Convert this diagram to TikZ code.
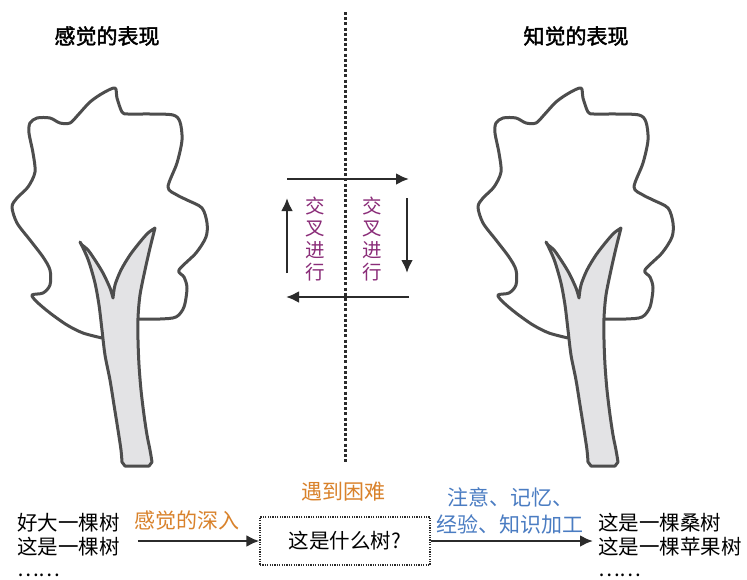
\documentclass[tikz,border=0pt]{standalone}
\usepackage{fontspec}
\setmainfont[AutoFakeBold=2]{Noto Sans CJK SC}
\usetikzlibrary{arrows.meta}
\tikzset{>={Latex[length=13pt,width=12pt]}}
\definecolor{inkgray}{HTML}{4D4D4D}
\definecolor{barkgray}{HTML}{E3E3E5}
\definecolor{arrowdark}{HTML}{2B2B2B}
\definecolor{warmorange}{HTML}{D9822B}
\definecolor{calmblue}{HTML}{4A7CC2}
\definecolor{vinepurple}{HTML}{8A2C78}

% hand drawn tree: crown outline first, trunk filled on top
\tikzset{sketchtree/.pic={
  \draw[inkgray,line width=3pt,line join=round,line cap=round]
    plot[smooth,tension=0.5] coordinates {
      (102,338) (83,333) (67,325) (50,313) (37,302) (32,295) (43,293) (50,285)
      (50,270) (43,257) (30,240) (17,223) (12,207) (17,198) (28,187) (35,172)
      (33,153) (29,133) (30,123) (37,118) (50,118) (60,123) (70,123) (78,115)
      (90,102) (103,93) (115,88) (117,98) (122,112) (128,114) (150,114)
      (173,115) (180,122) (182,140) (177,163) (168,187) (177,195) (187,200)
      (202,208) (207,223) (206,237) (196,253) (179,270) (184,277) (187,288)
      (184,307) (176,317) (160,319) (139,319)};
  \filldraw[fill=barkgray,draw=inkgray,line width=3pt,line join=round]
    plot[smooth,tension=0.5] coordinates {
      (80,242) (84,250) (89,262) (95,283) (99,305) (102,330) (105,355)
      (110,380) (114,405) (118,430) (121,450) (122,462)}
    -- (125,466) -- (149,466) --
    plot[smooth,tension=0.5] coordinates {
      (152,462) (150,450) (147,435) (144,415) (141,390) (139,365) (138,340)
      (138,318) (140,295) (145,270) (150,248) (154,232) (155,228)}
    --
    plot[smooth,tension=0.5] coordinates {
      (155,228) (148,233) (140,242) (130,255) (121,270) (115,285) (113,298)}
    --
    plot[smooth,tension=0.5] coordinates {
      (113,298) (110,288) (103,273) (95,260) (88,250) (82,245)}
    -- cycle;
}}

\begin{document}
\begin{tikzpicture}[x=1pt,y=-1pt]
\tikzstyle{hdr} = [font=\fontsize{21}{24}\selectfont\bfseries,inner sep=0pt]
\tikzstyle{said} = [font=\fontsize{20.5}{24}\selectfont,inner sep=0pt,align=left]
\tikzstyle{more} = [font=\fontsize{20.5}{24}\selectfont,inner sep=0pt,anchor=base west]
\tikzstyle{step note} = [font=\fontsize{21}{27}\selectfont,inner sep=0pt,align=center]
\tikzstyle{cross} = [font=\fontsize{19.5}{22}\selectfont,inner sep=0pt,align=center,text=vinepurple]
\tikzstyle{arr} = [->,draw=arrowdark,line width=2.6pt]
\tikzstyle{query box} = [font=\fontsize{20.5}{24}\selectfont,draw=arrowdark,line width=1.2pt,dash pattern=on 1.2pt off 1.2pt,minimum width=170pt,minimum height=48pt,inner sep=0pt]
\useasboundingbox (0,0) rectangle (747,579);
\fill[white] (0,0) rectangle (747,579);

\pic at (0,0) {sketchtree};
\pic at (466,0) {sketchtree};

\node[hdr] (sense) at (107,36) {感觉的表现};
\node[hdr] (percept) at (576,36) {知觉的表现};

\coordinate (divtop) at (345,12);
\coordinate (divbot) at (345,462);
\draw[arrowdark,line width=3pt,dash pattern=on 3pt off 2.2pt] (divtop) -- (divbot);

% the two kinds of representation take turns
\coordinate (tl) at (287,179);
\coordinate (tr) at (409,179);
\coordinate (rt) at (407,198);
\coordinate (rb) at (407,273);
\coordinate (br) at (409,297);
\coordinate (bl) at (286,297);
\coordinate (lb) at (287,273);
\coordinate (lt) at (287,198);
\draw[arr] (tl) -- (tr);
\draw[arr] (rt) -- (rb);
\draw[arr] (br) -- (bl);
\draw[arr] (lb) -- (lt);
\node[cross] (crossL) at (315,239) {交\\叉\\进\\行};
\node[cross] (crossR) at (372,239) {交\\叉\\进\\行};

\node[said,anchor=west] (said) at (17,535) {好大一棵树\\这是一棵树};
\node[more] (moreL) at (17,576) {……};
\node[query box] (query) at (345,541) {这是什么树?};
\node[said,anchor=west] (concl) at (598,535) {这是一棵桑树\\这是一棵苹果树};
\node[more] (moreR) at (598,576) {……};

\path (said.east |- query.west) ++(18,0) coordinate (sensestart);
\draw[arr] (sensestart) -- (query.west);
\draw[arr,shorten >=5pt] (query.east) -- (concl.west |- query.east);

\node[step note,text=warmorange] (deeper) at (187,521) {感觉的深入};
\node[step note,text=warmorange] (trouble) at (343,492) {遇到困难};
\node[step note,text=calmblue] (process) at (510,511) {注意、记忆、\\经验、知识加工};
\end{tikzpicture}
\end{document}
